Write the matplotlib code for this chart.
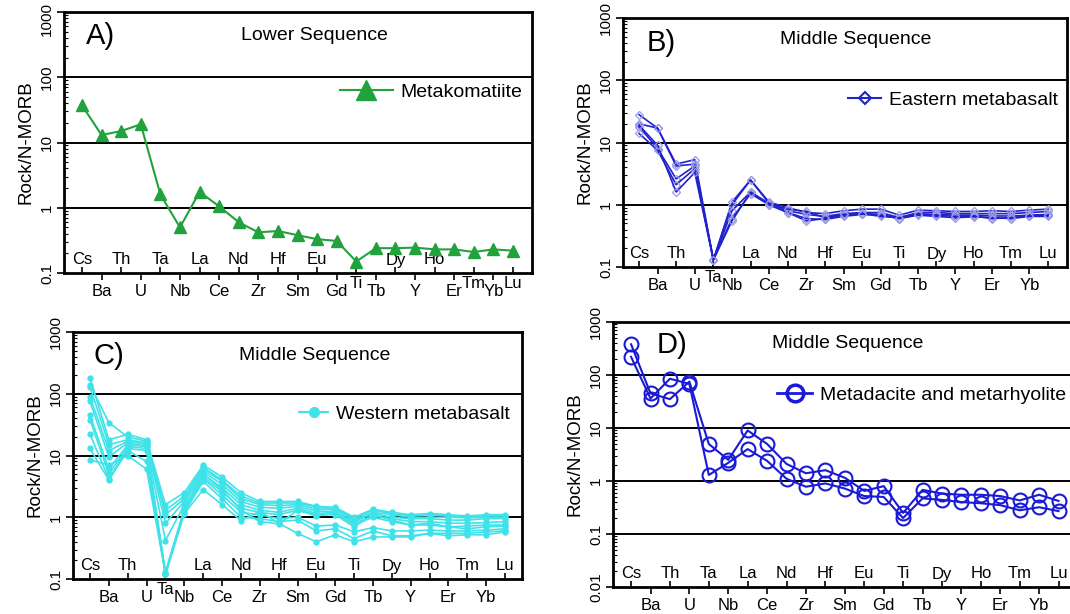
import matplotlib.pyplot as plt
from matplotlib.lines import Line2D
from matplotlib.ticker import LogLocator, NullFormatter
from matplotlib.transforms import ScaledTranslation

plt.rcParams['font.family'] = ['Liberation Sans', 'DejaVu Sans']

# Elements (N-MORB normalised spider diagram)
elements = ["Cs", "Ba", "Th", "U", "Ta", "Nb", "La", "Ce", "Nd", "Zr", "Hf", "Sm",
            "Eu", "Gd", "Ti", "Tb", "Dy", "Y", "Ho", "Er", "Tm", "Yb", "Lu"]

# A) Lower Sequence - metakomatiite
komatiite = [37, 13, 15, 19, 1.6, 0.5, 1.75, 1.05, 0.6, 0.42, 0.44, 0.38,
             0.33, 0.31, 0.15, 0.24, 0.24, 0.245, 0.23, 0.23, 0.21, 0.23, 0.22]

# B) Middle Sequence - eastern metabasalt
eastern = [
    [28, 17, 4.5, 5.3, 0.13, 1.1, 2.5, 1.1, 0.9, 0.75, 0.72, 0.8,
     0.85, 0.85, 0.68, 0.82, 0.8, 0.78, 0.78, 0.8, 0.78, 0.82, 0.85],
    [20, 17, 4.2, 4.5, 0.13, 1.0, 2.5, 1.05, 0.8, 0.7, 0.65, 0.72,
     0.75, 0.75, 0.62, 0.75, 0.75, 0.72, 0.72, 0.72, 0.72, 0.75, 0.78],
    [18, 8, 2.6, 4.2, 0.13, 0.8, 1.6, 1.0, 0.75, 0.55, 0.6, 0.68,
     0.72, 0.7, 0.6, 0.7, 0.7, 0.68, 0.68, 0.66, 0.66, 0.68, 0.7],
    [14, 7.5, 2.1, 3.8, 0.13, 0.6, 1.5, 1.0, 0.75, 0.6, 0.58, 0.65,
     0.7, 0.68, 0.6, 0.68, 0.65, 0.62, 0.64, 0.62, 0.6, 0.65, 0.65],
    [19, 9, 1.6, 3.3, 0.13, 0.55, 1.6, 1.05, 0.85, 0.78, 0.62, 0.7,
     0.72, 0.65, 0.62, 0.72, 0.68, 0.65, 0.66, 0.6, 0.62, 0.67, 0.68],
]

# C) Middle Sequence - western metabasalt
western = [
    [180, 18, 22, 18, 1.6, 2.5, 7.0, 4.5, 2.5, 1.8, 1.8, 1.8,
     1.5, 1.45, 1.0, 1.35, 1.2, 1.1, 1.15, 1.1, 1.05, 1.1, 1.1],
    [140, 34, 20, 17, 1.3, 2.2, 6.5, 4.0, 2.2, 1.7, 1.7, 1.7,
     1.45, 1.4, 0.95, 1.3, 1.15, 1.05, 1.1, 1.05, 1.0, 1.05, 1.05],
    [130, 15, 18, 16, 1.1, 2.0, 6.0, 3.8, 2.0, 1.6, 1.55, 1.6,
     1.35, 1.35, 0.9, 1.2, 1.1, 1.0, 1.0, 1.0, 0.98, 1.0, 1.0],
    [90, 12, 17, 15, 0.8, 1.8, 5.5, 3.4, 1.8, 1.45, 1.4, 1.5,
     1.25, 1.25, 0.85, 1.15, 1.0, 0.95, 0.95, 0.9, 0.9, 0.95, 0.95],
    [75, 9.5, 16, 14, 0.42, 1.6, 5.0, 3.0, 1.6, 1.3, 1.2, 1.4,
     1.15, 1.2, 0.8, 1.05, 0.95, 0.85, 0.85, 0.8, 0.8, 0.82, 0.85],
    [45, 6, 15, 14, 0.13, 1.4, 4.5, 2.6, 1.4, 1.2, 1.1, 1.3,
     1.05, 1.15, 0.75, 1.0, 0.85, 0.75, 0.75, 0.7, 0.72, 0.75, 0.75],
    [38, 5, 14, 13, 0.12, 1.3, 4.2, 2.3, 1.2, 1.1, 0.95, 1.0,
     0.72, 0.75, 0.58, 0.68, 0.6, 0.6, 0.62, 0.6, 0.6, 0.62, 0.65],
    [22, 4.2, 13, 12, 0.12, 1.2, 3.8, 2.0, 1.0, 0.95, 0.85, 0.9,
     0.6, 0.65, 0.45, 0.6, 0.5, 0.5, 0.55, 0.55, 0.55, 0.58, 0.6],
    [13, 4, 12, 8, 0.12, 1.15, 2.8, 1.6, 0.88, 1.25, 0.8, 0.55,
     0.4, 0.52, 0.4, 0.48, 0.48, 0.48, 0.55, 0.5, 0.52, 0.52, 0.58],
    [8.5, 7, 10, 6, 0.12, 1.2, 5.0, 2.8, 1.3, 0.85, 0.78, 1.3,
     1.1, 1.1, 0.7, 1.1, 0.9, 0.75, 0.8, 0.7, 0.65, 0.7, 0.72],
]

# D) Middle Sequence - metadacite and metarhyolite
felsic = [
    [380, 45, 35, 75, 5.0, 2.5, 9.0, 5.0, 2.1, 1.4, 1.6, 1.15,
     0.65, 0.8, 0.25, 0.68, 0.58, 0.55, 0.55, 0.52, 0.43, 0.55, 0.42],
    [220, 36, 85, 68, 1.3, 2.2, 4.0, 2.4, 1.1, 0.78, 0.9, 0.72,
     0.52, 0.5, 0.2, 0.47, 0.44, 0.4, 0.38, 0.35, 0.28, 0.32, 0.27],
]

W, H = 1070, 614
fig = plt.figure(figsize=(W / 100, H / 100), dpi=100)


def px(x, y):
    return x / W, 1 - y / H


def make_axes(left, top, right, bottom, ymin, xl, xr, raised):
    ax = fig.add_axes([left / W, 1 - bottom / H, (right - left) / W, (bottom - top) / H])
    ax.set_yscale("log")
    ax.set_ylim(ymin, 1000)
    ax.set_xlim(-xl, len(elements) - 1 + xr)

    yt = [v for v in [0.01, 0.1, 1, 10, 100, 1000] if v >= ymin]
    ax.set_yticks(yt)
    ax.set_yticklabels([("%g" % v) for v in yt], rotation=90, va="center", fontsize=11)
    ax.yaxis.set_minor_locator(LogLocator(base=10, subs=range(2, 10)))
    ax.yaxis.set_minor_formatter(NullFormatter())
    ax.tick_params(axis="y", which="major", direction="out", length=5, width=1.2, pad=2)
    ax.tick_params(axis="y", which="minor", direction="in", length=3, width=0.8)

    for v in yt[1:-1]:
        ax.axhline(v, color="black", lw=1.4, zorder=1)

    ax.set_xticks(range(0, len(elements), 2))
    ax.set_xticks(range(1, len(elements), 2), minor=True)
    ax.tick_params(axis="x", which="major", direction="in", length=4, width=1.2,
                   labelbottom=False)
    ax.tick_params(axis="x", which="minor", direction="out", length=5, width=1.2,
                   labelbottom=False)
    for s in ax.spines.values():
        s.set_linewidth(2)

    for i, el in enumerate(elements):
        if el in raised:
            dy = -10
        elif i % 2 == 0:
            dy = 13
        else:
            dy = -19
        ax.annotate(el, xy=(i, 0), xycoords=ax.get_xaxis_transform(),
                    xytext=(0, dy), textcoords="offset pixels",
                    ha="center", va="center", fontsize=12, annotation_clip=False)
    return ax


def add_legend(ax, handle, label, x, y, hl):
    ax.legend([handle], [label], loc="center left",
              bbox_to_anchor=px(x, y), bbox_transform=fig.transFigure,
              frameon=False, fontsize=14, handlelength=hl, handletextpad=0.4,
              borderpad=0, borderaxespad=0)


x = range(len(elements))

# ---- A ----
axA = make_axes(64, 12, 532, 273, 0.1, 0.92, 0.97, {"Ti", "Tm", "Lu"})
green = "#22a23c"
axA.plot(x, komatiite, color=green, lw=1.5, marker="^", ms=9, zorder=3)
add_legend(axA, Line2D([], [], color=green, lw=1.5, marker="^", ms=14),
           "Metakomatiite", 340, 92, 2.7)
axA.set_ylabel("Rock/N-MORB", fontsize=13.5, labelpad=4)
fig.text(*px(100, 36), "A)", fontsize=21, ha="center", va="center")
fig.text(*px(314, 35), "Lower Sequence", fontsize=14, ha="center", va="center")
# top label sits at the figure edge: nudge it down so it stays visible
top_lbl = axA.get_yticklabels()[-1]
top_lbl.set_transform(top_lbl.get_transform() + ScaledTranslation(0, -5 / 72, fig.dpi_scale_trans))

# ---- B ----
axB = make_axes(623, 18, 1067, 267, 0.1, 0.86, 1.02, {"Ta"})
blue_b = "#2222cc"
for s in eastern:
    axB.plot(x, s, color=blue_b, lw=1.2, marker="D", ms=4.5,
             mfc="none", mec="#9a9ae6", mew=0.9, zorder=3)
add_legend(axB, Line2D([], [], color=blue_b, lw=1.5, marker="D", ms=6,
                       mfc="none", mec=blue_b, mew=1.5),
           "Eastern metabasalt", 848, 100, 1.7)
axB.set_ylabel("Rock/N-MORB", fontsize=13.5, labelpad=4)
fig.text(*px(661, 43), "B)", fontsize=21, ha="center", va="center")
fig.text(*px(856, 40), "Middle Sequence", fontsize=14, ha="center", va="center")

# ---- C ----
axC = make_axes(73, 332, 522, 579, 0.1, 0.9, 0.9, {"Ta"})
cyan = "#3fe2e8"
for s in western:
    axC.plot(x, s, color=cyan, lw=1.2, marker="o", ms=3.5, zorder=3)
add_legend(axC, Line2D([], [], color=cyan, lw=1.5, marker="o", ms=7),
           "Western metabasalt", 299, 414, 1.5)
axC.set_ylabel("Rock/N-MORB", fontsize=13.5, labelpad=4)
fig.text(*px(109, 356), "C)", fontsize=21, ha="center", va="center")
fig.text(*px(315, 355), "Middle Sequence", fontsize=14, ha="center", va="center")

# ---- D ----
axD = make_axes(613, 322, 1078, 587, 0.01, 0.93, 1.0, set())
blue_d = "#1a1ad6"
for s in felsic:
    axD.plot(x, s, color=blue_d, lw=1.5, marker="o", ms=10,
             mfc="none", mec=blue_d, mew=1.5, zorder=3)
add_legend(axD, Line2D([], [], color=blue_d, lw=2, marker="o", ms=12,
                       mfc="none", mec=blue_d, mew=2.5),
           "Metadacite and metarhyolite", 777, 395, 1.8)
axD.set_ylabel("Rock/N-MORB", fontsize=13.5, labelpad=4)
fig.text(*px(672, 345), "D)", fontsize=21, ha="center", va="center")
fig.text(*px(848, 344), "Middle Sequence", fontsize=14, ha="center", va="center")

fig.savefig("out.png", dpi=100)
